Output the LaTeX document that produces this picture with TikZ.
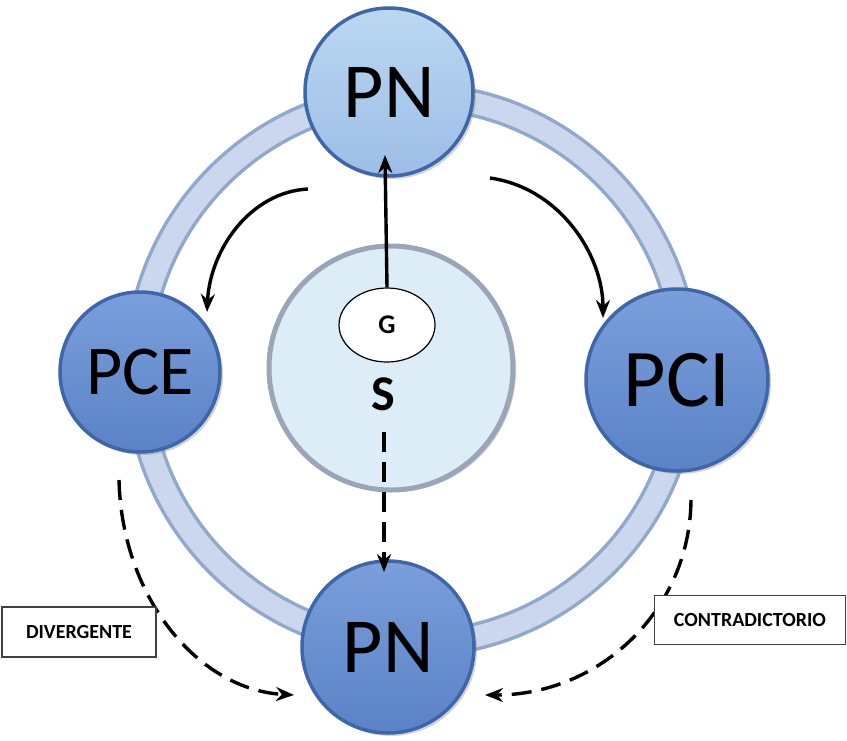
\documentclass[tikz,border=0pt]{standalone}
\usepackage{fontspec}
\setmainfont{Carlito}
\usetikzlibrary{positioning, arrows.meta, shapes.geometric, shadows}

\definecolor{ringfill}{HTML}{CAD7EC}
\definecolor{ringedge}{HTML}{92A7CC}
\definecolor{lightpn}{HTML}{BBD8F2}
\definecolor{lightpnb}{HTML}{9CBDE6}
\definecolor{midblue}{HTML}{7A9FDB}
\definecolor{midblueb}{HTML}{5A82C6}
\definecolor{rimblue}{HTML}{3F66A8}
\definecolor{corefill}{HTML}{DCEDF8}
\definecolor{coreedge}{HTML}{9AA6B8}

\begin{document}
\begin{tikzpicture}[x=1pt,y=-1pt,>={Stealth[length=18pt,width=14pt]},line width=3.4pt]
\tikzstyle{every node}=[inner sep=0pt]
\tikzstyle{phase}=[circle,draw=rimblue,line width=3.5pt,top color=midblue,bottom color=midblueb,drop shadow={opacity=0.35,shadow xshift=3pt,shadow yshift=-3pt}]
\tikzstyle{phaselight}=[phase,top color=lightpn,bottom color=lightpnb]
\tikzstyle{tag}=[rectangle,fill=white,draw=black!75,line width=1.3pt,font=\bfseries\fontsize{20}{20}\selectfont]
\tikzstyle{dasharrow}=[->,dash pattern=on 20pt off 10pt]

\useasboundingbox (0,0) rectangle (847,740);

% ring
\draw[ringedge,line width=28pt] (412,370) circle (274);
\draw[ringfill,line width=21pt] (412,370) circle (274);

% centre
\node[circle,minimum size=244pt,fill=corefill,draw=coreedge,line width=5pt,drop shadow={opacity=0.4,shadow xshift=3pt,shadow yshift=-2pt}] (core) at (391,368) {};
\node[ellipse,minimum width=96pt,minimum height=74pt,fill=white,draw=black,line width=1.2pt] (gnode) at (387,325) {\bfseries\fontsize{27}{27}\selectfont G};
\node (slabel) at (383,394) {\bfseries\fontsize{50}{50}\selectfont S};

% phases
\node[phaselight,minimum size=168pt] (pnTop) at (389,92) {\fontsize{78}{78}\selectfont PN};
\node[phase,minimum size=160pt] (pce) at (140,372) {\fontsize{70}{70}\selectfont PCE};
\node[phase,minimum size=182pt] (pci) at (677,380) {\fontsize{82}{82}\selectfont PCI};
\node[phase,minimum size=172pt] (pnBot) at (388,647) {\fontsize{78}{78}\selectfont PN};

% arrow ends
\coordinate (gTip) at (385,155);
\coordinate (sTail) at (384,432);
\coordinate (sTip) at (384,572);
\coordinate (leftTail) at (308,189);
\coordinate (leftTip) at (207,312);
\coordinate (rightTail) at (490,178);
\coordinate (rightTip) at (603,318);
\coordinate (divTail) at (119,480);
\coordinate (divTip) at (294,695);
\coordinate (conTail) at (691,500);
\coordinate (conTip) at (485,695);

\draw[->] (gnode.north) -- (gTip);
\draw[dasharrow] (sTail) -- (sTip);
\draw[->] (leftTail) .. controls (250,192) and (210,250) .. (leftTip);
\draw[->] (rightTail) .. controls (560,188) and (603,255) .. (rightTip);
\draw[dasharrow] (divTail) .. controls (122,600) and (200,690) .. (divTip);
\draw[dasharrow] (conTail) .. controls (690,610) and (600,695) .. (conTip);

% labels
\node[tag,minimum width=154pt,minimum height=50pt] (divergente) at (79,632) {DIVERGENTE};
\node[tag,minimum width=191pt,minimum height=49pt] (contra) at (750,620) {CONTRADICTORIO};
\end{tikzpicture}
\end{document}
